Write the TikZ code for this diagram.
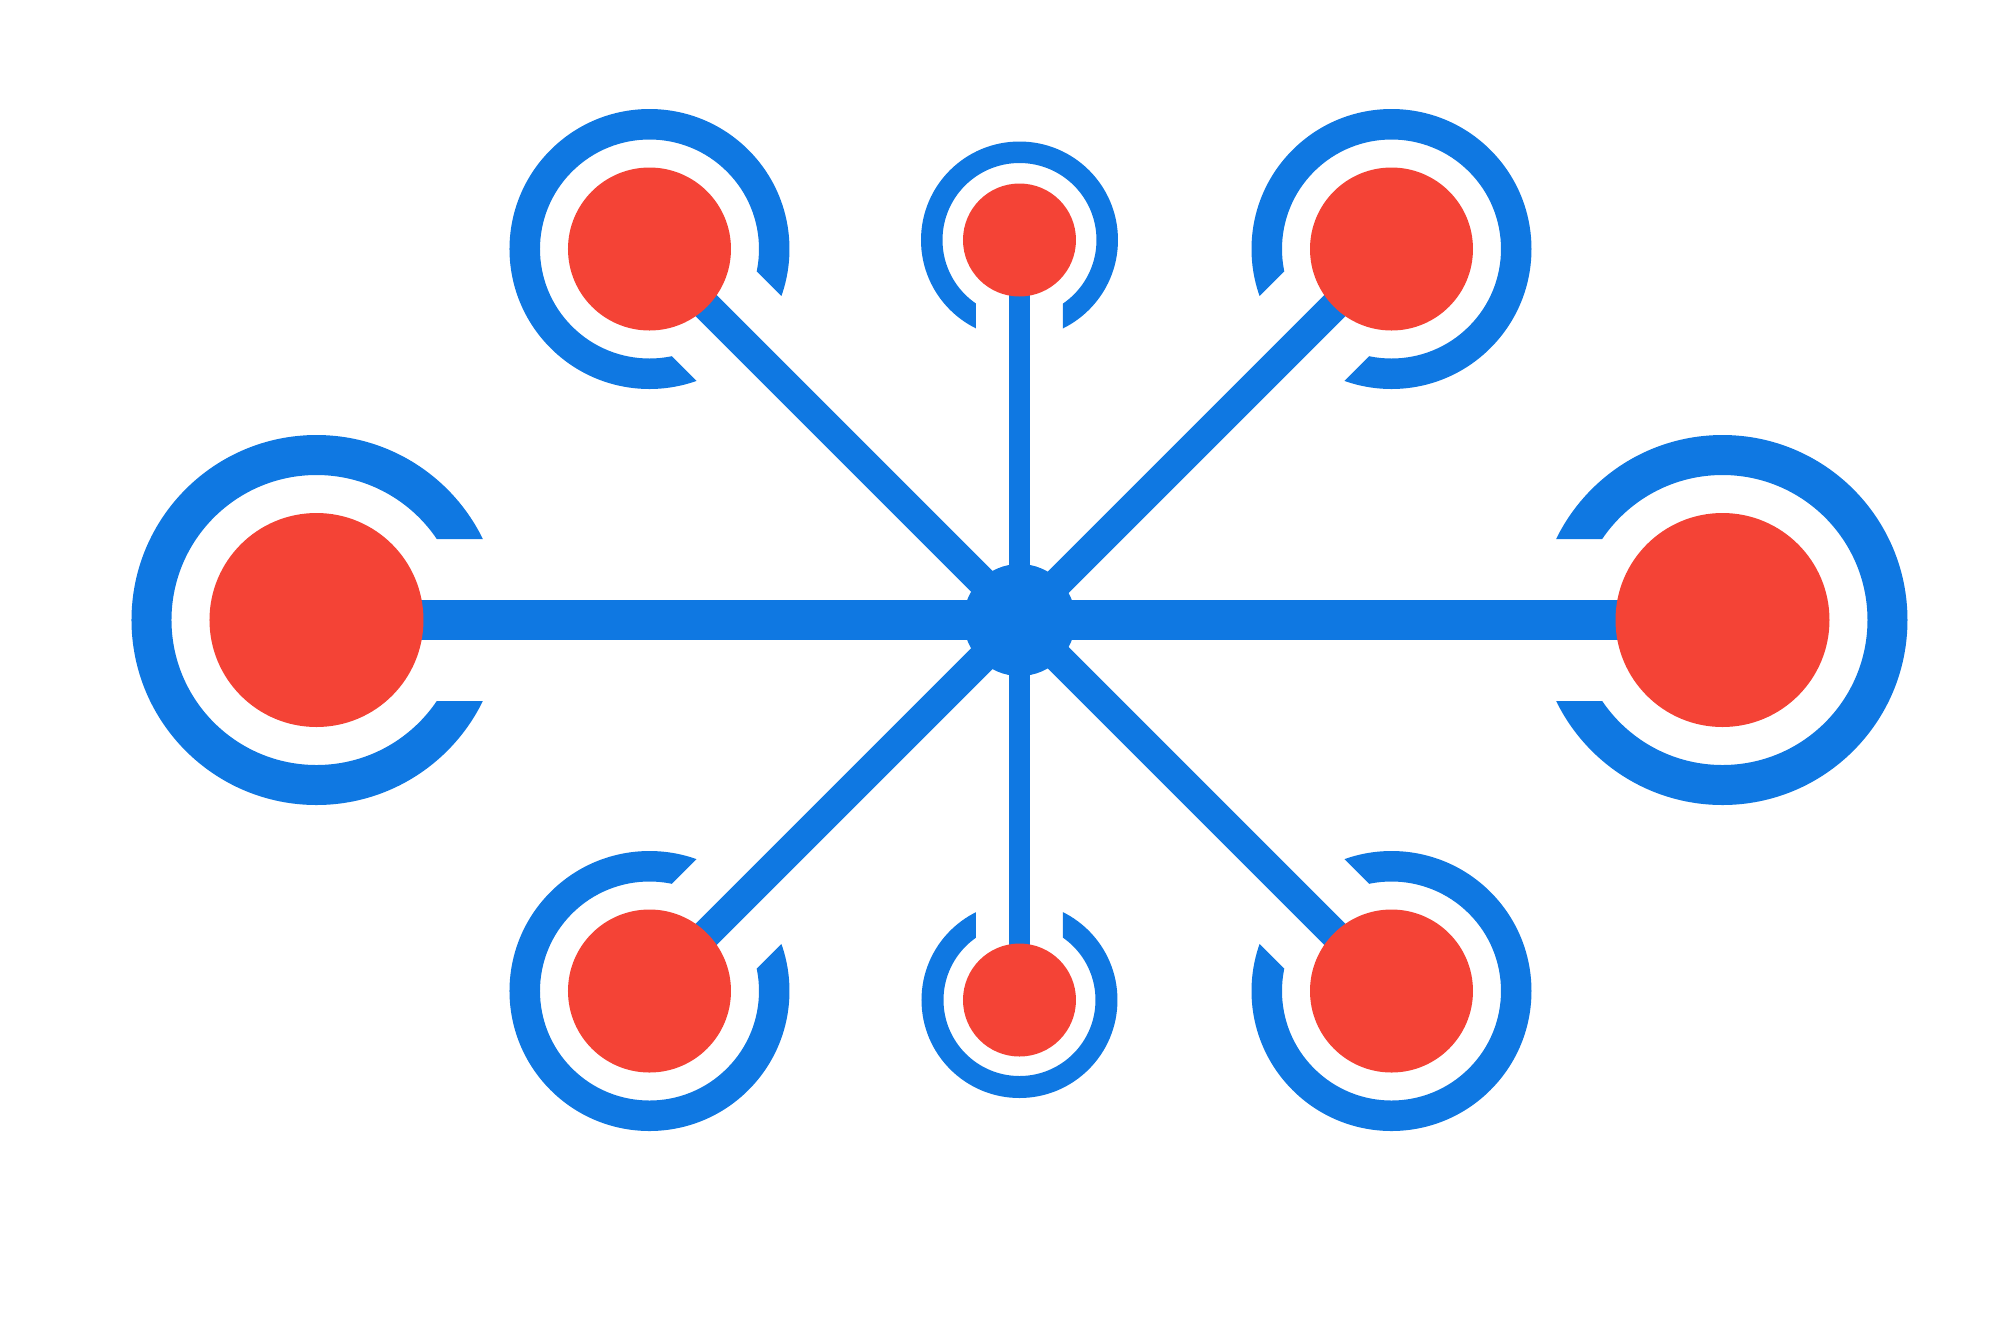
\documentclass[tikz,border=0pt]{standalone}
\usepackage{tikz}
\usetikzlibrary{positioning}
\usetikzlibrary{backgrounds}

\definecolor{linkblue}{HTML}{0F78E2}
\definecolor{dotred}{HTML}{F44336}

% ring round a dot, open towards the hub
\newcommand{\gapring}[5]{%
    \begin{scope}[shift={(#1.center)}, rotate=#2, even odd rule]
        \clip (-3cm,-3cm) rectangle (3cm,3cm) (0cm,-#5) rectangle (3cm,#5);
        \fill[linkblue] (0,0) circle (#4) (0,0) circle (#3);
    \end{scope}}

\begin{document}
\begin{tikzpicture}[node distance=2cm, on grid]
            \tikzstyle{reddot}=[circle, fill=dotred, draw=none, inner sep=0pt]
            \tikzstyle{bigdot}=[reddot, minimum size=2.14cm]
            \tikzstyle{middot}=[reddot, minimum size=1.63cm]
            \tikzstyle{smalldot}=[reddot, minimum size=1.13cm]
            \tikzstyle{hubdot}=[circle, fill=linkblue, inner sep=0pt, minimum size=1.12cm]
            \tikzstyle{link}=[draw=linkblue]

            \useasboundingbox (-10.195,-7.01) rectangle (9.805,6.20);

            \node[hubdot]   (hub)   at (0,0) {};
            \node[bigdot]   (west)  [left=7.03cm of hub] {};
            \node[bigdot]   (east)  [right=7.03cm of hub] {};
            \node[smalldot] (north) [above=3.8cm of hub] {};
            \node[smalldot] (south) [below=3.8cm of hub] {};
            \node[middot]   (nw)    [above left=3.71cm and 3.7cm of hub] {};
            \node[middot]   (ne)    [above right=3.71cm and 3.72cm of hub] {};
            \node[middot]   (sw)    [below left=3.71cm and 3.7cm of hub] {};
            \node[middot]   (se)    [below right=3.71cm and 3.72cm of hub] {};

            \begin{scope}[on background layer]
                \path[link, line width=0.4cm]  (west.center) edge (east.center);
                \path[link, line width=0.21cm] (north.center) edge (south.center);
                \path[link, line width=0.3cm]  (nw.center) edge (se.center)
                    (ne.center) edge (sw.center);
            \end{scope}

            \gapring{west}{0}{1.45cm}{1.85cm}{0.81cm}
            \gapring{east}{180}{1.45cm}{1.85cm}{0.81cm}
            \gapring{north}{-90}{0.77cm}{0.985cm}{0.435cm}
            \gapring{south}{90}{0.76cm}{0.98cm}{0.435cm}
            \gapring{nw}{-45}{1.095cm}{1.40cm}{0.60cm}
            \gapring{ne}{-135}{1.095cm}{1.40cm}{0.60cm}
            \gapring{sw}{45}{1.095cm}{1.40cm}{0.60cm}
            \gapring{se}{135}{1.095cm}{1.40cm}{0.60cm}
        \end{tikzpicture}
\end{document}
